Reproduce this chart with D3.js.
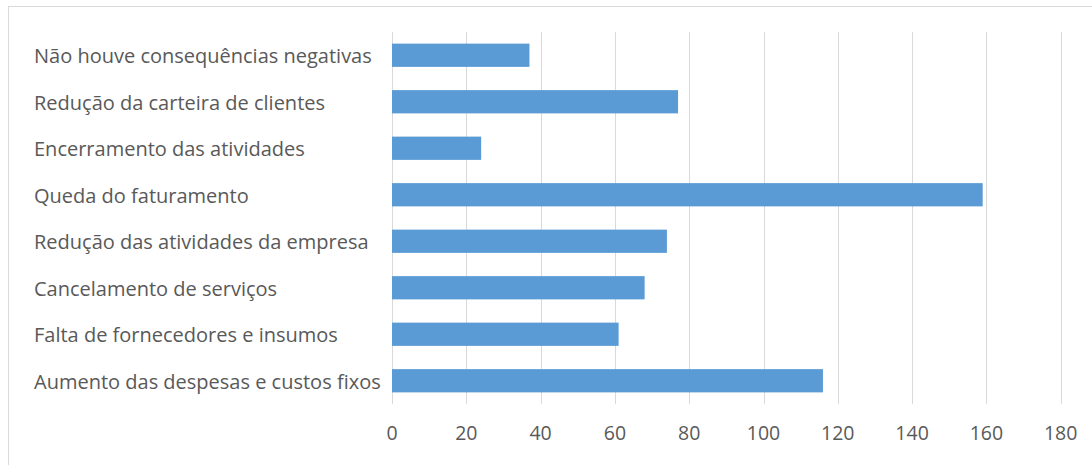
<!DOCTYPE html>
<html><head><meta charset="utf-8">
<script src="https://cdn.jsdelivr.net/npm/d3@7"></script>
<style>html,body{margin:0;padding:0;background:#fff;}svg{display:block;}</style>
</head><body>
<script>
const categories = ["Não houve consequências negativas","Redução da carteira de clientes","Encerramento das atividades","Queda do faturamento","Redução das atividades da empresa","Cancelamento de serviços","Falta de fornecedores e insumos","Aumento das despesas e custos fixos"];
const values = [37, 77, 24, 159, 74, 68, 61, 116];
const ticks = [0,20,40,60,80,100,120,140,160,180];

const W = 1092, H = 465;
const svg = d3.select("body").append("svg").attr("width", W).attr("height", H);
svg.append("rect").attr("x", 8.5).attr("y", 6.5).attr("width", W).attr("height", H)
  .attr("fill", "#fff").attr("stroke", "#D9D9D9").attr("stroke-width", 1);

const x = d3.scaleLinear().domain([0, 180]).range([392, 1060.7]);
const y = d3.scaleBand().domain(categories).range([32, 404]).paddingInner(0.5).paddingOuter(0.25);

const grid = svg.append("g");
grid.selectAll("line").data(ticks).join("line")
  .attr("x1", d => Math.round(x(d)) + 0.5).attr("x2", d => Math.round(x(d)) + 0.5)
  .attr("y1", 32).attr("y2", 404)
  .attr("stroke", "#D9D9D9").attr("stroke-width", 1);

svg.append("g").selectAll("rect").data(values).join("rect")
  .attr("x", x(0)).attr("y", (d, i) => y(categories[i]))
  .attr("width", d => x(d) - x(0)).attr("height", y.bandwidth())
  .attr("fill", "#5B9BD5");

const font = "'Open Sans','Noto Sans',sans-serif";
svg.append("g").selectAll("text").data(categories).join("text")
  .attr("x", 34).attr("y", d => y(d) + y.bandwidth() / 2 + 0.5)
  .attr("dominant-baseline", "central")
  .attr("font-family", font).attr("font-size", 20).attr("fill", "#595959")
  .text(d => d);

svg.append("g").selectAll("text").data(ticks).join("text")
  .attr("x", d => x(d)).attr("y", 432.5)
  .attr("text-anchor", "middle").attr("dominant-baseline", "central")
  .attr("font-family", font).attr("font-size", 19.5).attr("fill", "#595959")
  .text(d => d);
</script>
</body></html>
